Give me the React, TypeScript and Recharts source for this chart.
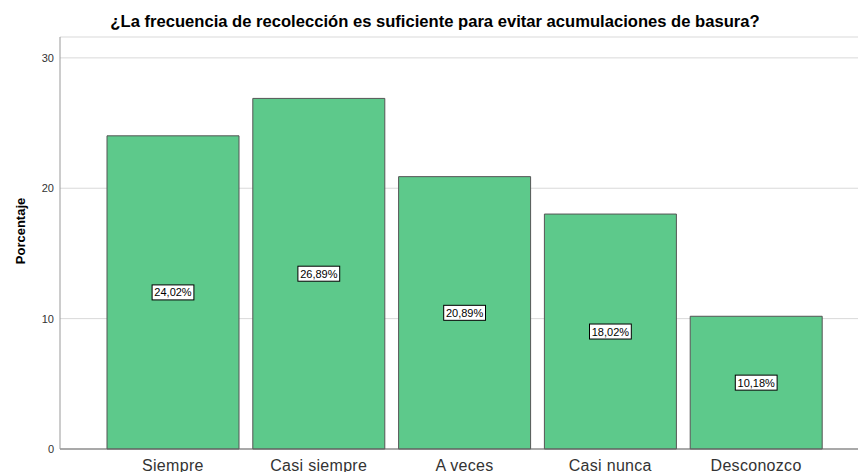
import { BarChart, Bar, XAxis, YAxis, CartesianGrid, LabelList } from 'recharts';

const categories = ['Siempre', 'Casi siempre', 'A veces', 'Casi nunca', 'Desconozco'];
const percentages = [24.02, 26.89, 20.89, 18.02, 10.18];
const yTicks = [0, 10, 20, 30];

const title = '¿La frecuencia de recolección es suficiente para evitar acumulaciones de basura?';

const data = categories.map((name, i) => ({ name, value: percentages[i] }));

const font = '"Liberation Sans", Arial, sans-serif';

function formatPct(v: number) {
  return v.toFixed(2).replace('.', ',') + '%';
}

// boxed label in the middle of each bar, like SPSS does
const BoxLabel = (props: any) => {
  const { x, y, width, height, value } = props;
  const cx = x + width / 2;
  const cy = y + height / 2;
  const text = formatPct(value);
  const w = text.length * 6.3 + 4;
  return (
    <g>
      <rect x={cx - w / 2} y={cy - 7.5} width={w} height={15} fill="#fff" stroke="#000" strokeWidth={1} />
      <text x={cx} y={cy + 4} textAnchor="middle" fontSize={11} fontFamily={font} fill="#000">
        {text}
      </text>
    </g>
  );
};

const YTitle = (props: any) => {
  const vb = props.viewBox;
  const x = 20;
  const y = vb.y + vb.height / 2 - 12;
  return (
    <text
      x={x}
      y={y}
      transform={`rotate(-90, ${x}, ${y})`}
      textAnchor="middle"
      dominantBaseline="central"
      fontSize={13}
      fontWeight="bold"
      fontFamily={font}
      fill="#000"
    >
      Porcentaje
    </text>
  );
};

const App = () => {
  return (
    <div style={{ position: 'absolute', left: 0, top: 0, width: 858, height: 472, background: '#fff', overflow: 'hidden' }}>
      <div
        style={{
          position: 'absolute',
          left: 0,
          width: 870,
          top: 12,
          textAlign: 'center',
          fontFamily: font,
          fontWeight: 'bold',
          fontSize: 16.6,
          whiteSpace: 'nowrap',
          color: '#000',
        }}
      >
        {title}
      </div>
      <BarChart width={858} height={472} data={data} margin={{ top: 37, right: 0, left: 0, bottom: 0 }}>
        <CartesianGrid vertical={false} stroke="#d9d9d9" />
        <XAxis
          dataKey="name"
          height={23}
          padding={{ left: 40, right: 29 }}
          axisLine={{ stroke: '#666' }}
          tickLine={false}
          tickSize={6}
          tickMargin={5}
          tick={{ fontSize: 16, fontFamily: font, fill: '#333', letterSpacing: 0.3 }}
          interval={0}
        />
        <YAxis
          width={60}
          domain={[0, 31.6]}
          ticks={yTicks}
          axisLine={{ stroke: '#999' }}
          tickLine={false}
          tickSize={0}
          tickMargin={6}
          tick={{ fontSize: 11, fontFamily: font, fill: '#333' }}
          label={<YTitle />}
        />
        <Bar dataKey="value" fill="#5dc98b" stroke="#555" strokeWidth={1} barSize={132} isAnimationActive={false}>
          <LabelList dataKey="value" content={BoxLabel} />
        </Bar>
      </BarChart>
    </div>
  );
};

export default App;
